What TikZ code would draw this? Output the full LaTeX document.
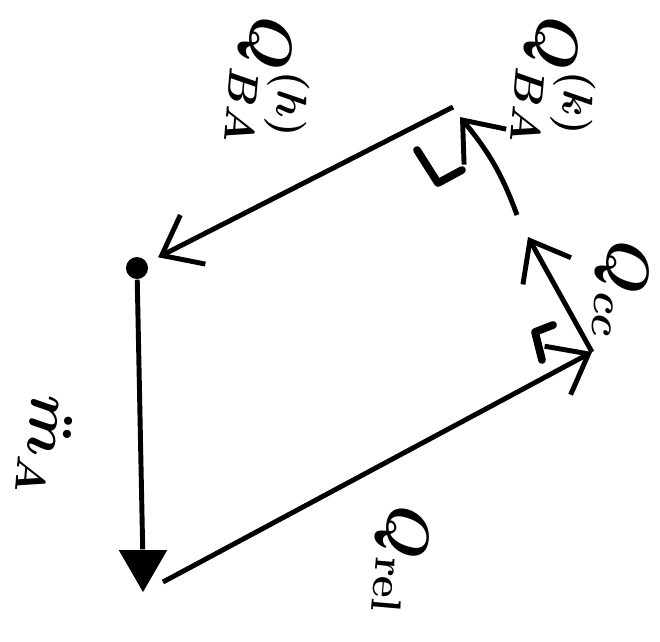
\documentclass[tikz,border=0pt]{standalone}
\usepackage{amsmath}
\usepackage{tikz}
\usetikzlibrary{arrows.meta,shapes.geometric,bending}

\begin{document}
\begin{tikzpicture}[
  x=0.01cm, y=-0.01cm,
  plain/.style={line width=1.4pt},
  flow/.style={plain, -{Straight Barb[length=3.5mm,width=5.5mm]}},
  lbl/.style={rotate=-95, inner sep=0pt, font=\fontsize{17}{20}\selectfont\boldmath},
  tick/.style={line width=2.2pt, line cap=round, line join=round}
]
\useasboundingbox (0,0) rectangle (660,641);
% state points
\node[circle, fill, inner sep=0pt, minimum size=0.22cm] (stateA) at (137,268) {};
\node[regular polygon, regular polygon sides=3, shape border rotate=180, fill,
      inner sep=0pt, minimum size=0.56cm] (pump) at (143,564) {};
\coordinate (corner) at (592,352);
\coordinate (ccEnd) at (528,237);
\coordinate (kStart) at (517,215);
\coordinate (kEnd) at (460,117);
\coordinate (topEnd) at (453,107);
% cycle
\draw[plain] (stateA) -- (pump);
\draw[flow] ([shift={(20,18)}]pump.center) -- (corner);
\draw[flow] (corner) -- (ccEnd);
\draw[flow] (kStart) to[bend right=10] (kEnd);
\draw[flow, shorten >=0.12cm] (topEnd) -- (stateA);
% corner marks
\draw[tick] (417,150) -- (438,183) -- (462,170);
\draw[tick] (553,325) -- (535,332) -- (542,360);
% labels
\node[lbl] (qh) at (270,82) {$Q_{BA}^{(h)}$};
\node[lbl] (qk) at (556,82) {$Q_{BA}^{(k)}$};
\node[lbl] (qcc) at (620,290) {$Q_{cc}$};
\node[lbl] (qrel) at (400,560) {$Q_{\mathrm{rel}}$};
\node[lbl] (mA) at (45,445) {$\ddot{m}_A$};
\end{tikzpicture}
\end{document}
